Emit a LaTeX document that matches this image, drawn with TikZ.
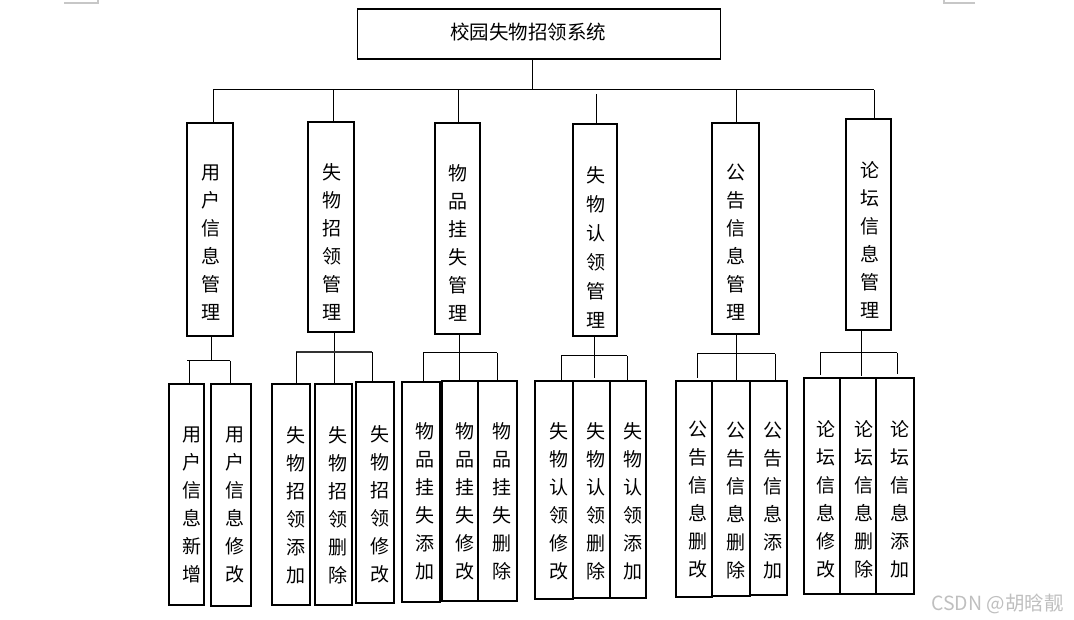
\documentclass[tikz,border=0pt]{standalone}
\usepackage{fontspec}
\newfontfamily\cjk{Noto Sans CJK SC}
\begin{document}
\begin{tikzpicture}[x=1pt,y=-1pt,
  box/.style={draw, line width=1.2pt, inner sep=0pt},
  titlebox/.style={draw, line width=1.6pt, inner sep=0pt, minimum width=363pt, minimum height=50pt},
  vtext/.style={font=\cjk\fontsize{19}{28}\selectfont, align=center, inner sep=0pt},
  vtextb/.style={font=\cjk\fontsize{19}{29}\selectfont, align=center, inner sep=0pt},
  conn/.style={line width=1pt},
  mark/.style={draw=black!22, line width=1.2pt}]
\useasboundingbox (0,0) rectangle (1074,620);
% page corner marks
\coordinate (cl) at (98,3);
\coordinate (cr) at (944,3);
\draw[draw=black!22, line width=1.2pt] (64,3) -- (cl) -- (98,0);
\draw[draw=black!22, line width=1.2pt] (975,3) -- (cr) -- (944,0);
% title
\node[titlebox] (title) at (539,34) {};
\node[font=\cjk\fontsize{19.5}{24}\selectfont, inner sep=0pt] (titletext) at (528,32) {校园失物招领系统};
% bus
\coordinate (ts) at (532,90);
\coordinate (busL) at (213,90);
\coordinate (busR) at (874,90);
\draw[conn] (ts |- title.south) -- (ts);
\draw[conn] (busL) -- (busR);
% middle boxes
\node[box, minimum width=46pt, minimum height=213pt] (m1) at (210,229.5) {};
\node[box, minimum width=46pt, minimum height=210pt] (m2) at (331,227) {};
\node[box, minimum width=45pt, minimum height=211pt] (m3) at (457.5,228.5) {};
\node[box, minimum width=44pt, minimum height=212pt] (m4) at (595,230) {};
\node[box, minimum width=47pt, minimum height=211pt] (m5) at (735.5,228.5) {};
\node[box, minimum width=45pt, minimum height=211pt] (m6) at (868.5,224.5) {};
\node[vtext] (m1t) at (211,243) {用\\户\\信\\息\\管\\理};
\node[vtext] (m2t) at (332,241.5) {失\\物\\招\\领\\管\\理};
\node[vtext] (m3t) at (458,243) {物\\品\\挂\\失\\管\\理};
\node[vtextb] (m4t) at (596,247.5) {失\\物\\认\\领\\管\\理};
\node[vtext] (m5t) at (736,242) {公\\告\\信\\息\\管\\理};
\node[vtext] (m6t) at (870,239.5) {论\\坛\\信\\息\\管\\理};
% bus drops
\coordinate (v1) at (213,90);
\coordinate (v2) at (333,90);
\coordinate (v3) at (458,90);
\coordinate (v4) at (596,94);
\coordinate (v5) at (736,90);
\coordinate (v6) at (874,90);
\foreach \v/\m in {v1/m1,v2/m2,v3/m3,v4/m4,v5/m5,v6/m6}
  \draw[conn] (\v) -- (\v |- \m.north);
% leaves
\node[box, minimum width=35pt, minimum height=221pt] (lA) at (186.5,494.5) {};
\node[box, minimum width=40pt, minimum height=222pt] (lB) at (231,495) {};
\node[box, minimum width=38pt, minimum height=221pt] (lC) at (291,494.5) {};
\node[box, minimum width=37pt, minimum height=221pt] (lD) at (333.5,494.5) {};
\node[box, minimum width=38pt, minimum height=221pt] (lE) at (375,492.5) {};
\node[box, minimum width=38pt, minimum height=220pt] (lF) at (421,492) {};
\node[box, minimum width=36pt, minimum height=220pt] (lG) at (460,491) {};
\node[box, minimum width=39pt, minimum height=220pt] (lH) at (497.5,491) {};
\node[box, minimum width=38pt, minimum height=218pt] (lI) at (554,490) {};
\node[box, minimum width=37pt, minimum height=217pt] (lJ) at (591.5,489.5) {};
\node[box, minimum width=36pt, minimum height=217pt] (lK) at (628,489.5) {};
\node[box, minimum width=36pt, minimum height=216pt] (lL) at (694,489) {};
\node[box, minimum width=38pt, minimum height=215pt] (lM) at (731,488.5) {};
\node[box, minimum width=37pt, minimum height=214pt] (lN) at (768.5,488) {};
\node[box, minimum width=36pt, minimum height=216pt] (lO) at (822,486) {};
\node[box, minimum width=36pt, minimum height=216pt] (lP) at (858,486) {};
\node[box, minimum width=38pt, minimum height=216pt] (lQ) at (895,486) {};
% leaf texts
\node[vtext] (tA) at (192,505) {用\\户\\信\\息\\新\\增};
\node[vtext] (tB) at (235,505) {用\\户\\信\\息\\修\\改};
\node[vtext] (tC) at (296,505) {失\\物\\招\\领\\添\\加};
\node[vtext] (tD) at (338,505) {失\\物\\招\\领\\删\\除};
\node[vtext] (tE) at (380,504) {失\\物\\招\\领\\修\\改};
\node[vtext] (tF) at (425,501.5) {物\\品\\挂\\失\\添\\加};
\node[vtext] (tG) at (465,501.5) {物\\品\\挂\\失\\修\\改};
\node[vtext] (tH) at (502,501.5) {物\\品\\挂\\失\\删\\除};
\node[vtext] (tI) at (559,501.5) {失\\物\\认\\领\\修\\改};
\node[vtext] (tJ) at (596,501.5) {失\\物\\认\\领\\删\\除};
\node[vtext] (tK) at (633,501.5) {失\\物\\认\\领\\添\\加};
\node[vtext] (tL) at (698,500) {公\\告\\信\\息\\删\\改};
\node[vtext] (tM) at (736,500) {公\\告\\信\\息\\删\\除};
\node[vtext] (tN) at (773,500) {公\\告\\信\\息\\添\\加};
\node[vtext] (tO) at (826,499.5) {论\\坛\\信\\息\\修\\改};
\node[vtext] (tP) at (864,499.5) {论\\坛\\信\\息\\删\\除};
\node[vtext] (tQ) at (900,499.5) {论\\坛\\信\\息\\添\\加};
% group 1
\coordinate (g1s) at (211,361);
\coordinate (g1a) at (189,361);
\coordinate (g1b) at (230,361);
\draw[conn] (g1s |- m1.south) -- (g1s);
\draw[conn] (187,361) -- (g1b);
\draw[conn] (g1a) -- (g1a |- lA.north);
\draw[conn] (g1b) -- (g1b |- lB.north);
% group 2
\coordinate (g2s) at (334,352);
\coordinate (g2a) at (296,352);
\coordinate (g2b) at (372,352);
\draw[conn] (g2s |- m2.south) -- (g2s |- lD.north);
\draw[line width=1.4pt, draw=black!80] (g2a) -- (g2b);
\draw[conn] (g2a) -- (g2a |- lC.north);
\draw[conn] (g2b) -- (g2b |- lE.north);
% group 3
\coordinate (g3s) at (459,353);
\coordinate (g3a) at (423,353);
\coordinate (g3b) at (497,353);
\draw[conn] (g3s |- m3.south) -- (g3s |- lG.north);
\draw[conn] (g3a) -- (g3b);
\draw[conn] (g3a) -- (g3a |- lF.north);
\draw[conn] (g3b) -- (g3b |- lH.north);
% group 4
\coordinate (g4s) at (594,356);
\coordinate (g4a) at (561,356);
\coordinate (g4b) at (627,356);
\draw[conn] (g4s |- m4.south) -- (594,378);
\draw[conn] (g4a) -- (g4b);
\draw[conn] (g4a) -- (g4a |- lI.north);
\draw[conn] (g4b) -- (g4b |- lK.north);
% group 5
\coordinate (g5s) at (736,354);
\coordinate (g5a) at (697,354);
\coordinate (g5b) at (775,354);
\draw[conn] (g5s |- m5.south) -- (g5s |- lM.north);
\draw[conn] (g5a) -- (g5b);
\draw[conn] (g5a) -- (697,378);
\draw[conn] (g5b) -- (g5b |- lN.north);
% group 6
\coordinate (g6s) at (861,353);
\coordinate (g6a) at (820,353);
\coordinate (g6b) at (897,353);
\draw[conn] (g6s |- m6.south) -- (861,376);
\draw[conn] (g6a) -- (g6b);
\draw[conn] (g6a) -- (820,375);
\draw[conn] (g6b) -- (897,374);
% watermark
\node[font=\cjk\fontsize{19.5}{22}\selectfont, text=black!25, inner sep=0pt, anchor=west] (wm) at (931,604) {CSDN @胡晗靓};
\end{tikzpicture}
\end{document}
